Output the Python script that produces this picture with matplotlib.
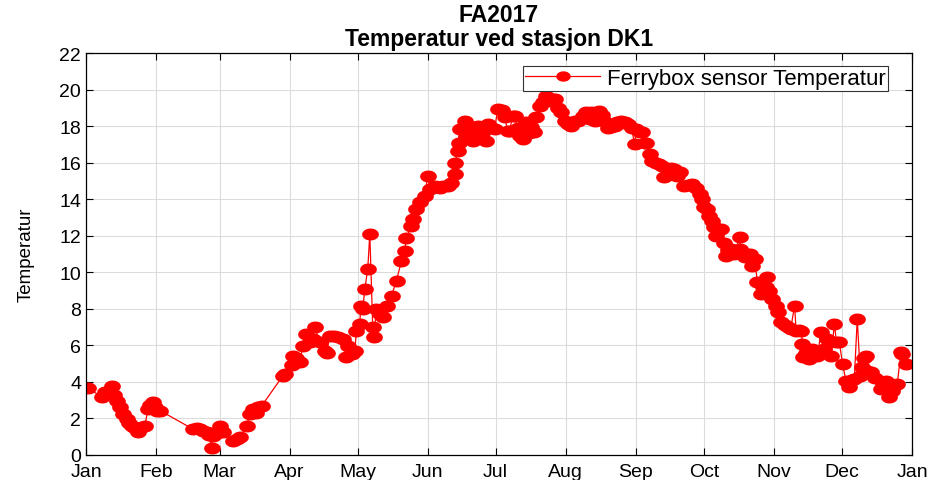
import numpy as np
import pandas as pd
import matplotlib
matplotlib.use('Agg')
import matplotlib.pyplot as plt
import matplotlib.dates as mdates
from matplotlib.path import Path

plt.rcParams['font.family'] = ['Liberation Sans', 'DejaVu Sans']

# day of year 2017 (0 = 1 Jan) and temperature
days = [0.9, 6.9, 8.4, 11.3, 12.4, 13.6, 15, 16.3, 18, 19, 20.2, 21.6, 23, 24.6, 26, 27.4, 28.3,
        29.6, 30.5, 31.3, 32.7, 47.2, 49, 50.3, 51.7, 53.3, 54.3, 55.5, 56.1, 57.7, 59.2, 60.5,
        64.9, 66.7, 68, 71, 72.4, 73.7, 75, 75.9, 77.7, 87, 87.9, 90.8, 91.4, 92.7, 94.5, 95.8,
        97.4, 98.9, 100.2, 101.1, 103.3, 105.5, 106.4, 107.7, 109.5, 111.3, 113.5, 115.1, 115.7,
        117.4, 118.8, 119.5, 121, 121.4, 122.3, 123.2, 124.5, 125.4, 126.7, 127.2, 128.3, 129.8,
        131.1, 132.8, 135, 137.2, 139.4, 140.8, 141.6, 143.8, 144.4, 146,
        147.5, 149.7, 151, 151.9, 154.1, 156.3, 157.6, 159.8, 161.5, 162.9, 163.1, 164.2, 164.7,
        165.1, 167.3, 168.1, 169.5, 170.9, 171.7, 173.1, 174.8, 176.9, 177.5, 179.2, 180.6, 181.9,
        183.7, 185, 186.3, 187.2, 188.5, 189.4, 190.7, 191.6, 192.9, 194.6, 195.6, 196.8, 197.8,
        199, 200.4, 201.8, 203.4, 203.7, 204.9, 206.2, 207.1, 208.4, 210, 211.5, 212.8, 214.1,
        215.9, 217.2, 219.4, 221.1, 222.5, 223.3, 224.7, 226.9, 227.8, 229.1, 230.5, 232.1, 233.6,
        234.8, 236.5, 238, 239.3, 241.1, 242.4, 243.1, 244.6, 245.9, 246.8, 247.5, 249, 250.3,
        251.7, 253.4, 254.7, 255.6, 257, 258.3, 260, 261.3, 262.6, 264.4, 266.2, 268, 269.7,
        271.1, 272, 273.3, 274.6, 275.5, 276.8, 277.3, 278.4, 279.5, 280.7, 281.7, 282.8, 283.9,
        285, 286.5, 288.8, 289.2, 291, 292.3, 293.2, 294.5, 295.4, 296.7, 298.3, 299.3, 300.5,
        301.1, 302, 303.3, 305, 306, 307.3, 308.7, 310, 311.4, 313.1, 313.8, 315.2, 316, 316.6,
        317, 318.3, 319.6, 321, 322.3, 323.2, 324.8, 326.3, 327.6, 329.3, 330.7, 331.6, 332.9,
        334.3, 335.8, 337.3, 338.6, 339.5, 340.8, 342.2, 343, 343.9, 344.7, 345.3, 346.9, 348.8,
        351.3, 352.3, 353.5, 355, 356.3, 357.1, 358.5, 360.1, 360.7, 362.3]
temps = [3.67, 3.17, 3.43, 3.77, 3.3, 2.98, 2.61, 2.25, 1.97, 1.75, 1.61, 1.45, 1.28, 1.55, 1.61,
         2.5, 2.75, 2.92, 2.6, 2.4, 2.43, 1.42, 1.45, 1.42, 1.3, 1.24, 1.1, 0.38, 1.06, 1.2, 1.61,
         1.24, 0.78, 0.9, 0.97, 1.6, 2.25, 2.5, 2.3, 2.6, 2.7, 4.34, 4.43, 4.9, 5.43, 5.3, 5.08,
         5.98, 6.62, 6.2, 6.35, 7.0, 6.17, 5.71, 5.6, 6.53, 6.5, 6.44, 6.35, 5.36, 5.98, 5.5,
         5.71, 6.8, 7.17, 8.17, 8.0, 9.09, 10.18, 12.1, 7.0, 6.44, 8.0, 7.72, 7.55, 8.17, 8.72,
         9.54, 10.64, 11.18, 11.9, 12.55, 12.92, 13.46,
         13.83, 14.2, 15.29, 14.56, 14.74, 14.6, 14.74, 14.74, 14.9, 15.38, 16.0, 16.66, 17.1,
         17.84, 18.3, 17.48, 17.75, 17.2, 17.95, 18.02, 17.6, 17.2, 18.1, 17.9, 17.84, 18.94,
         18.9, 18.5, 17.75, 17.75, 18.57, 18.57, 17.9, 17.48, 17.3, 18.2, 17.6, 17.95, 17.7,
         18.5, 19.1, 19.3, 19.67, 20.3, 19.4, 19.5, 19.48, 19.0, 18.77, 18.3, 18.1, 18.0,
         18.3, 18.3, 18.57, 18.77, 18.4, 18.77, 18.3, 18.85, 18.6, 18.3, 17.9, 17.95, 18.0,
         18.2, 18.3, 18.2, 18.1, 17.9, 17.0, 17.84, 17.7, 17.66, 17.1, 17.1, 16.47, 16.1,
         16.0, 15.9, 15.83, 15.2, 15.3, 15.7, 15.65, 15.29, 15.5, 14.74, 14.8, 14.83, 14.6,
         14.28, 14.0, 13.57, 13.46, 13.1, 12.83, 12.48, 12.0, 12.3, 12.37, 11.6, 10.9, 11.2,
         11.27, 11.0, 11.93, 11.27, 10.84, 11.0, 11.0, 10.36, 10.73, 9.47, 8.81, 9.2, 9.19,
         9.74, 9.0, 8.54, 8.17, 7.8, 7.28, 7.1, 7.0, 6.9, 8.17, 6.8, 6.85, 6.8, 6.08,
         5.36, 5.6, 5.25, 5.8, 5.5, 5.43, 6.73, 5.8, 6.35, 5.43, 7.17, 6.2, 6.17,
         4.98, 4.07, 3.72, 4.1, 4.16, 7.44, 4.3, 4.82, 5.3, 5.43, 4.6, 4.54, 4.2,
         3.61, 3.9, 4.07, 3.17, 3.5, 3.79, 3.89, 5.64, 5.5, 4.98]

dates = pd.Timestamp('2017-01-01') + pd.to_timedelta(days, unit='D')

# wide elliptical marker like the original
t = np.linspace(0, 2 * np.pi, 60)
ellipse = Path(np.column_stack([1.45 * np.cos(t), np.sin(t)]), closed=True)

fig = plt.figure(figsize=(9.33, 4.81), dpi=100)
ax = fig.add_axes([0.0922, 0.052, 0.8853, 0.8357])

ax.plot(dates, temps, color='red', linewidth=0.9, marker=ellipse, markersize=11,
        markerfacecolor='red', markeredgecolor='red', label='Ferrybox sensor Temperatur')

ax.set_xlim(pd.Timestamp('2017-01-01'), pd.Timestamp('2018-01-01'))
ax.set_ylim(0, 22)
ax.set_yticks(range(0, 23, 2))
ax.xaxis.set_major_locator(mdates.MonthLocator())
ax.xaxis.set_major_formatter(mdates.DateFormatter('%b'))

ax.grid(True, color='#dcdcdc', linewidth=0.8)
ax.set_axisbelow(True)
ax.tick_params(direction='in', top=True, right=True, labelsize=14, length=5, width=0.8)
ax.tick_params(axis='x', pad=6)
for s in ax.spines.values():
    s.set_linewidth(0.9)

ax.set_ylabel('Temperatur', fontsize=13.5)
ax.yaxis.set_label_coords(-0.062, 0.5)
ax.set_title('FA2017\nTemperatur ved stasjon DK1', fontsize=16.5, fontweight='bold',
             linespacing=1.05, pad=6)

leg = ax.legend(loc='upper right', bbox_to_anchor=(0.971, 0.968), borderaxespad=0,
                fontsize=16, fancybox=False, framealpha=1, edgecolor='#333333',
                borderpad=0.1, handlelength=3.4, handletextpad=0.3, markerscale=0.85)
leg.get_frame().set_linewidth(0.8)

fig.savefig('out.png', dpi=100)
